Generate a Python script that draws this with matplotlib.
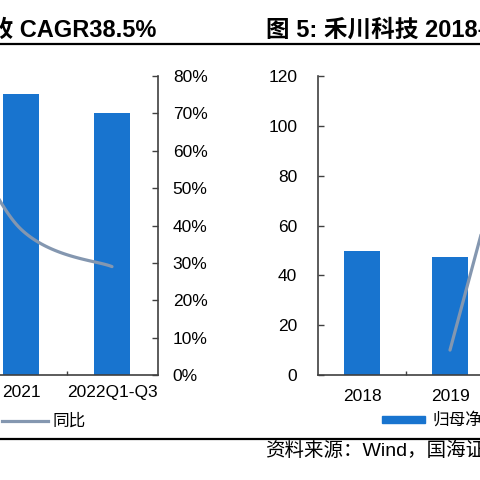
"""
Two cropped bar + growth-line panels (revenue / net profit), report style.
"""
import matplotlib
matplotlib.use("Agg")
import matplotlib.pyplot as plt
from matplotlib.lines import Line2D
from matplotlib.patches import Rectangle
from matplotlib.ticker import FuncFormatter
import numpy as np

plt.rcParams['font.family'] = ['Liberation Sans', 'Noto Sans CJK SC']

# left panel: revenue (亿元) and yoy
rev_years = ['2019', '2020', '2021', '2022Q1-Q3']
rev_values = [3.07, 5.37, 7.52, 7.01]
rev_yoy = [0.60, 0.75, 0.39, 0.29]

# right panel: net profit (百万元) and yoy
np_years = ['2018', '2019', '2020', '2021', '2022Q1-Q3']
np_values = [49.6, 47.2, 107.0, 112.5, 92.0]
np_yoy = [np.nan, -0.05, 1.92, 0.05, 0.10]

BLUE = '#1874CF'
GREY = '#8497B0'
AXC = '#404040'
W, H = 480.0, 480.0


def px(x, y):
    # pixel (from top-left) -> figure fraction
    return x / W, 1 - y / H


def smooth(x, y, n=40):
    # catmull-rom through the points, roughly like an office "smoothed line"
    p = np.column_stack([x, y]).astype(float)
    p = np.vstack([p[0], p, p[-1]])
    t = np.linspace(0, 1, n)[:, None]
    h00 = 2*t**3 - 3*t**2 + 1
    h10 = t**3 - 2*t**2 + t
    h01 = -2*t**3 + 3*t**2
    h11 = t**3 - t**2
    segs = []
    for i in range(1, len(p) - 2):
        m1 = (p[i+1] - p[i-1]) / 2
        m2 = (p[i+2] - p[i]) / 2
        segs.append(h00*p[i] + h10*m1 + h01*p[i+1] + h11*m2)
    s = np.vstack(segs)
    return s[:, 0], s[:, 1]


def style_x(ax, n, pad):
    ax.set_xlim(-0.5, n - 0.5)
    ax.set_xticks(range(n))
    ax.tick_params(axis='x', length=0, pad=pad, labelsize=12.5)
    ax.set_xticks(np.arange(0.5, n - 1), minor=True)
    ax.tick_params(axis='x', which='minor', direction='in', length=3,
                   color=AXC, width=1)
    for s in ['top', 'right', 'left']:
        ax.spines[s].set_visible(False)
    ax.spines['bottom'].set_color(AXC)
    ax.spines['bottom'].set_linewidth(1.2)


fig = plt.figure(figsize=(4.8, 4.8), dpi=100)
fig.patch.set_facecolor('white')

pct = FuncFormatter(lambda v, _: f"{v*100:.0f}%")

# ---- left panel
axl = fig.add_axes([(157.5 - 364) / W, 105 / H, 364 / W, 299 / H])
xl = np.arange(len(rev_years))
axl.bar(xl, rev_values, width=0.4, color=BLUE, zorder=2)
axl.set_ylim(0, 8)
axl.set_yticks([])
axl.set_xticks(xl)
axl.set_xticklabels(rev_years)
style_x(axl, len(rev_years), 7)

axl2 = axl.twinx()
sx, sy = smooth(xl, rev_yoy)
axl2.plot(sx, sy, color=GREY, lw=2.3, solid_capstyle='round')
axl2.set_ylim(0, 0.8)
axl2.set_yticks(np.arange(0, 0.81, 0.1))
axl2.yaxis.set_major_formatter(pct)
axl2.tick_params(axis='y', direction='in', length=4, color=AXC, width=1,
                 pad=11, labelsize=12.5)
for s in ['top', 'left', 'bottom']:
    axl2.spines[s].set_visible(False)
axl2.spines['right'].set_color(AXC)
axl2.spines['right'].set_linewidth(1.2)

# ---- right panel
axr = fig.add_axes([318 / W, 105 / H, 440 / W, 299 / H])
xr = np.arange(len(np_years))
axr.bar(xr, np_values, width=0.4, color=BLUE, zorder=2)
axr.set_ylim(0, 120)
axr.set_yticks(range(0, 121, 20))
axr.set_xticks(xr)
axr.set_xticklabels(np_years)
style_x(axr, len(np_years), 10)
axr.spines['left'].set_visible(True)
axr.spines['left'].set_color(AXC)
axr.spines['left'].set_linewidth(1.2)
axr.tick_params(axis='y', direction='in', length=4, color=AXC, width=1,
                pad=15, labelsize=12.5)

axr2 = axr.twinx()
axr2.plot(xr, np_yoy, color=GREY, lw=2.3, solid_capstyle='round', zorder=3)
axr2.set_ylim(-0.2, 1.6)
axr2.set_yticks([])
for s in axr2.spines.values():
    s.set_visible(False)

# ---- titles, rules, legends, source
fig.text(*px(156, 37), "图 4: 禾川科技 2019-2022Q1-Q3 营业收入及增速，近三年营收 CAGR38.5%",
         ha='right', va='baseline', fontsize=17, fontweight='bold')
fig.text(*px(266, 37), "图 5: 禾川科技 2018-2022Q1-Q3 归母净利润及增速",
         ha='left', va='baseline', fontsize=17, fontweight='bold')

for yy in [44, 439]:
    fig.add_artist(Line2D([0, 1], [1 - yy / H] * 2, transform=fig.transFigure,
                          color='black', lw=1.6))

fig.add_artist(Line2D([2 / W, 48 / W], [1 - 421 / H] * 2,
                      transform=fig.transFigure, color=GREY, lw=2.3))
fig.text(*px(53, 421), "同比", ha='left', va='center', fontsize=12)

fig.add_artist(Rectangle(px(382, 423), 43 / W, 7 / H,
                         transform=fig.transFigure, color=BLUE))
fig.text(*px(432, 420), "归母净利润（百万元）", ha='left', va='center', fontsize=12)

fig.text(*px(265, 451), "资料来源：Wind，国海证券研究所", ha='left', va='center',
         fontsize=14)

fig.savefig("out.png", dpi=100)
